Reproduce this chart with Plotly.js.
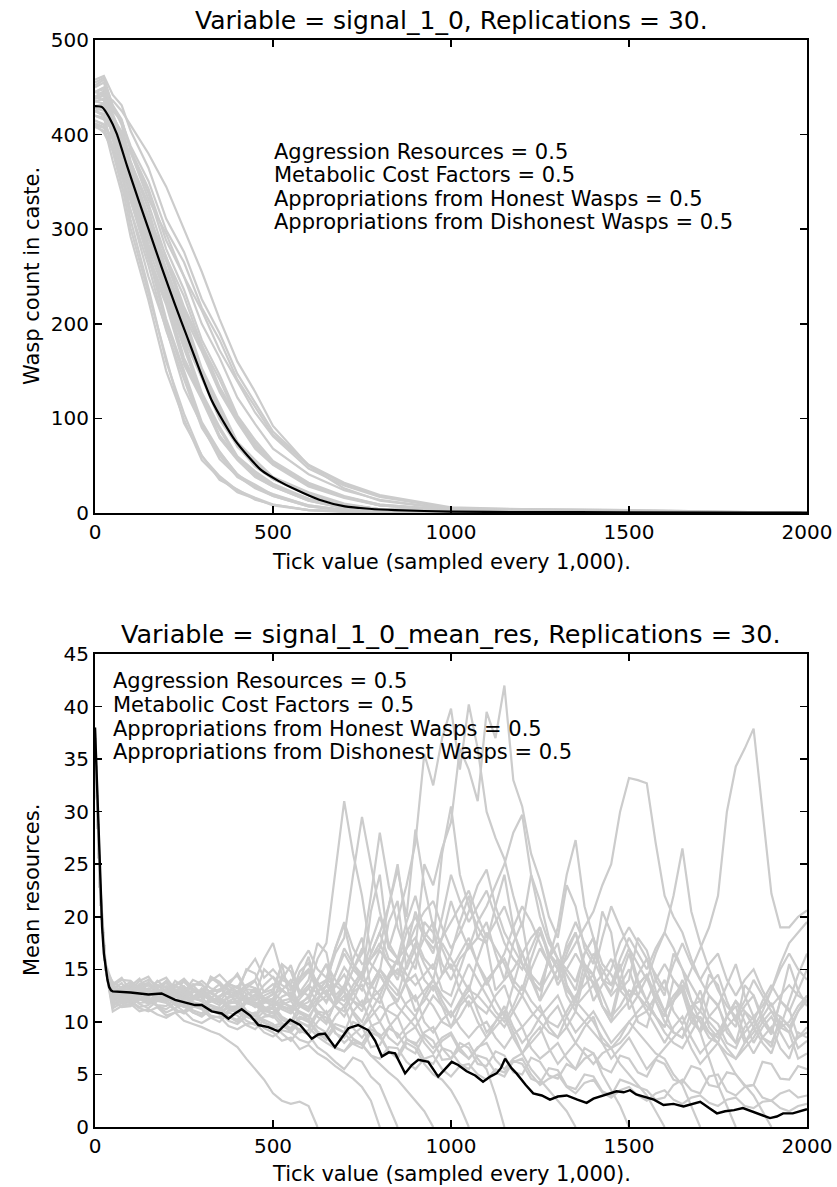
<!DOCTYPE html>
<html>
<head>
<meta charset="utf-8">
<script src="https://cdn.plot.ly/plotly-3.0.1.min.js"></script>
<style>html,body{margin:0;padding:0;background:#fff;}#chart{width:837px;height:1187px;}</style>
</head>
<body>
<div id="chart"></div>
<script>
// ---------- Top panel: wasp count in caste ----------
const countTicks = [0,25,50,75,100,150,200,250,300,350,400,450,500,600,700,800,1000,1200,1500,2000];
const countRuns = [
  [415,410,372,338,292,225,150,99,56,37,22,15,8,3,1,1,0,0,0,0],
  [425,420,382,348,301,232,162,95,61,35,25,14,9,3,2,1,1,0,0,0],
  [410,402,383,345,320,250,195,132,93,57,39,26,18,7,3,2,1,1,0,0],
  [435,433,400,374,331,271,200,147,94,64,41,27,20,8,3,2,1,1,0,0],
  [420,418,386,361,320,262,193,141,90,61,38,28,18,7,3,2,1,1,0,0],
  [440,446,412,389,349,296,231,176,124,89,58,43,29,15,6,3,1,1,1,0],
  [415,411,395,361,336,273,224,160,122,80,57,39,28,13,5,3,1,1,1,0],
  [450,455,422,398,357,303,236,181,127,91,60,44,31,15,6,3,1,1,1,0],
  [425,420,404,370,344,280,229,164,125,82,58,40,29,14,5,3,1,1,1,0],
  [430,432,407,388,351,303,243,198,144,107,71,53,36,20,9,4,2,1,1,0],
  [445,450,420,401,363,314,252,205,149,111,74,55,37,21,9,4,2,1,1,0],
  [412,408,396,366,343,284,240,184,143,99,71,49,36,19,9,4,1,1,1,0],
  [455,460,430,410,372,321,257,210,153,114,75,56,38,22,10,4,2,1,1,0],
  [420,416,404,373,350,290,244,188,146,101,72,50,37,19,9,4,1,1,1,0],
  [435,438,408,385,346,292,229,174,123,88,58,42,30,14,6,3,1,1,0,0],
  [438,442,418,403,371,327,270,229,177,141,100,74,53,31,17,9,3,1,1,0],
  [420,417,407,381,363,308,266,214,175,131,99,69,52,29,17,8,3,1,1,0],
  [452,458,431,416,383,338,279,236,183,146,103,77,55,32,18,9,3,1,1,0],
  [428,425,415,388,369,313,271,218,178,133,101,71,53,30,17,8,3,1,1,0],
  [440,444,425,414,388,351,299,265,217,183,141,112,83,50,31,18,5,4,3,0],
  [425,422,417,394,381,332,295,250,214,172,139,106,81,47,29,17,5,2,1,0],
  [458,462,442,431,404,365,311,276,226,190,147,116,86,51,32,19,6,4,3,0],
  [445,442,436,425,410,380,345,300,255,205,160,128,92,50,26,13,4,3,2,0],
  [445,448,410,382,340,277,205,150,96,65,40,30,19,8,3,2,1,1,0,0],
  [408,404,388,355,330,268,220,157,120,79,56,38,28,13,5,3,1,1,0,0],
  [438,441,415,395,358,309,248,202,147,109,73,54,37,21,9,4,2,1,1,0],
  [410,407,398,372,354,300,259,209,171,128,96,68,51,28,16,8,3,1,1,0],
  [440,436,395,358,310,238,160,105,60,39,24,16,9,3,2,1,1,0,0,0],
  [425,429,402,383,347,299,240,196,143,106,70,52,36,20,9,4,2,1,1,0],
  [445,449,427,414,384,343,288,250,200,164,122,94,68,41,24,14,4,2,1,0]
];
const countMeanTicks = [0,20,40,61,90,122,155,187,225,262,295,328,360,393,430,468,515,562,630,702,770,843,1000,1200,1500,2000];
const countMean = [430,429,418,401,367,331,295,260,220,183,150,119,97,77,60,45,34,25,14,7,4.5,3,1.5,1,0.7,0.5];

// ---------- Bottom panel: mean resources (0, 15, 30, then every 25 ticks from 50 to 2000) ----------
const resTicks = [0,15,30,50,75,100,125,150,175,200,225,250,275,300,325,350,375,400,425,450,475,500,525,550,575,600,625,650,675,700,725,750,775,800,825,850,875,900,925,950,975,1000,1025,1050,1075,1100,1125,1150,1175,1200,1225,1250,1275,1300,1325,1350,1375,1400,1425,1450,1475,1500,1525,1550,1575,1600,1625,1650,1675,1700,1725,1750,1775,1800,1825,1850,1875,1900,1925,1950,1975,2000];
const resRuns = [
  [37,22,15, 13.0,12.4,13.4,14.1,12.6,13.2,13.9,12.9,12.8,14.0,13.6,12.7,12.3,13.5,14.6,13.1,13.0,11.9,12.2,14.0, 15.4,12.8,14.0,17.5,16.6,12.5,13.4,16.0,18.0,13.2,14.8,19.5,21.5,15.0,17.0,25.0,23.0,26.5,29.0,36.0, 34.0,31.0,39.5,37.0,42.0,33.0,30.5,26.0,23.5,20.0,18.0,23.0,21.0,17.0,15.5,20.5,18.5,13.0,14.0,18.0, 16.8,14.0,12.5,16.5,15.0,12.0,11.0,14.5,13.5,10.5,9.5,13.5,12.5,10.0,8.8,12.0,11.2,8.5,9.0],
  [37.5,22.5,15.5, 13.6,14.2,12.9,13.5,13.7,12.8,12.5,13.9,13.3,12.4,12.0,14.3,13.8,12.9,12.6,15.0,14.6,12.8,13.1,15.5, 11.9,14.0,16.2,12.9,13.4,17.0,19.2,15.5,14.0,20.5,24.0,17.0,19.8,23.0,27.0,35.5,32.5,37.0,39.8,34.0, 40.2,36.0,30.0,27.5,25.5,22.0,19.0,24.0,21.5,18.0,16.0,15.0,13.8,16.5,18.0,14.0,12.8,15.5,11.2,12.5, 14.2,12.0,10.5,14.0,12.8,10.0,9.2,12.5,11.6,9.0,8.0,11.0,10.2,8.5,7.6,10.5,9.6,7.5,8.2],
  [38,23,15, 12.5,13.3,13.8,12.6,12.9,13.9,13.2,12.5,14.0,13.0,12.4,14.2,13.6,11.9,11.8,13.2,13.9,12.0,12.7,15.5, 14.8,12.5,13.2,16.0,17.5,24.0,31.0,26.0,22.0,16.5,18.5,21.0,24.5,20.0,28.3,23.0,19.0,14.5,16.5,19.5, 22.0,18.0,17.5,13.0,14.0,17.5,19.5,14.5,12.0,16.5,15.5,12.5,11.0,14.5,13.8,11.5,10.0,13.5,12.5,10.0, 9.5,12.5,11.0,9.0,8.5,11.0,13.0,10.5,9.8,8.0,7.5,9.5,10.5,8.5,8.0,10.0,9.0,6.5,7.0],
  [37,22,15, 13.2,12.6,12.4,13.4,13.5,12.7,12.2,13.3,13.1,12.4,12.9,12.0,11.9,13.0,13.4,12.1,12.6,15.0,14.2,13.0, 12.4,14.8,15.6,13.5,14.0,16.5,18.0,24.0,29.5,25.0,20.5,17.0,16.0,19.5,22.0,18.5,17.5,26.0,30.5,24.0, 21.0,19.0,17.5,21.0,24.0,19.0,15.5,14.0,13.0,16.0,17.5,13.5,12.0,15.5,14.5,11.5,10.5,14.0,16.5,13.5, 12.0,10.5,9.5,12.0,13.5,11.0,10.0,8.5,8.0,10.5,11.5,8.5,7.0,8.5,9.5,7.5,6.5,9.0,8.5],
  [37,22,15, 12.2,12.9,13.0,12.1,12.3,13.5,13.3,12.4,12.0,13.1,12.8,11.9,12.5,12.9,11.6,12.6,12.9,11.2,11.7,14.5, 13.5,11.5,11.9,14.0,15.5,12.0,13.0,15.0,16.5,22.0,28.0,23.0,19.0,16.5,15.0,19.5,18.5,15.5,14.0,16.0, 17.0,19.5,21.0,23.0,25.0,28.0,29.7,24.0,20.0,17.5,16.0,14.5,13.0,16.5,18.0,14.0,12.5,13.5,15.0,12.5, 11.0,12.5,14.0,11.0,9.8,11.5,12.0,9.5,8.5,9.5,10.5,8.0,9.0,10.5,11.8,9.5,10.0,11.5,12.5],
  [37,22,15, 12.8,12.3,12.1,12.8,13.2,12.4,11.9,12.3,12.6,11.8,11.4,12.0,12.2,11.3,11.0,11.9,12.5,11.4,10.8,11.6, 12.0,10.9,10.2,12.0,13.5,12.2,11.5,13.0,14.5,16.0,17.0,21.0,25.0,19.0,16.5,14.0,13.0,14.5,15.5,13.0, 11.5,12.5,14.0,12.0,10.5,13.5,16.5,14.5,13.5,16.0,19.0,24.0,27.3,21.0,18.0,15.5,14.5,13.0,12.0,14.5, 16.0,13.0,11.0,12.5,13.5,10.5,9.0,10.5,11.5,9.5,8.0,9.0,10.0,12.0,13.5,12.0,11.0,13.0,15.0],
  [37,22,15, 13.4,14.0,13.9,13.2,13.0,13.8,14.2,13.1,12.7,13.6,13.5,12.8,13.1,12.6,12.4,13.5,14.0,16.0,17.5,14.5, 13.2,14.2,15.0,13.5,12.6,14.5,16.5,15.0,14.0,16.5,18.5,16.0,15.5,18.5,20.0,18.0,17.0,18.0,19.5,21.0, 22.5,20.0,18.0,19.5,21.0,18.5,16.5,18.0,19.0,16.5,15.0,16.0,17.5,19.0,20.5,23.0,25.0,30.0,33.2,33.0, 32.7,27.0,22.0,20.0,18.5,16.0,14.0,15.5,16.5,14.0,12.5,14.0,15.0,13.0,11.5,12.5,13.5,12.5,12.0],
  [37,22,15, 12.9,12.4,13.3,12.8,12.7,13.4,13.0,12.5,12.2,13.1,12.9,12.0,12.4,12.8,11.9,12.5,13.2,12.0,11.5,12.4, 12.8,11.6,11.2,12.9,13.9,12.4,12.0,13.5,14.8,12.5,11.8,14.0,16.0,14.5,13.5,14.5,15.5,13.0,12.5,15.0, 17.5,15.5,14.0,15.0,16.0,14.0,13.0,16.0,18.5,16.5,15.0,13.0,12.0,14.5,16.5,15.0,13.5,15.0,17.0,14.0, 12.0,14.0,15.5,14.0,13.0,15.0,17.0,19.0,22.0,30.0,34.3,36.0,37.9,30.3,22.2,19.0,19.0,20.0,20.6],
  [37,22,15, 12.0,11.5,12.7,12.2,11.8,12.6,12.4,11.6,11.5,12.3,12.0,11.0,11.2,12.0,12.3,11.1,10.6,12.0,11.6,10.5, 10.0,11.5,12.5,10.5,9.8,12.0,13.5,12.0,11.0,13.5,15.0,13.5,12.5,15.5,17.5,15.5,14.0,17.5,16.0,14.5, 13.0,16.0,18.5,17.0,15.5,13.5,12.5,15.0,17.0,15.5,14.0,17.5,19.5,17.5,16.0,14.0,13.5,16.0,18.0,16.5, 15.0,17.0,18.5,22.0,26.5,20.5,17.5,15.0,13.0,11.5,10.5,12.0,14.0,12.5,11.0,9.5,9.0,11.0,12.5],
  [37,22,15, 13.1,13.7,12.5,13.1,13.6,13.0,12.8,13.5,14.1,13.2,12.3,12.9,13.0,13.8,14.4,13.0,12.1,12.9,13.6,13.0, 12.5,13.8,14.8,13.0,11.8,13.5,15.2,14.0,13.0,15.0,16.8,15.5,14.5,17.0,19.0,20.5,21.5,19.0,17.0,18.5, 20.5,23.0,24.5,21.0,18.5,17.0,15.5,14.0,13.0,14.5,16.0,13.5,11.5,12.5,13.5,11.5,10.0,11.0,12.0,13.5, 14.5,12.0,10.0,9.0,8.5,10.0,11.0,10.0,9.0,10.5,12.0,10.0,8.0,9.5,10.5,9.0,7.5,8.5,9.5],
  [37,22,15, 11.5,12.1,11.9,11.3,11.0,11.4,10.6,10.9,10.1,9.8,9.5,9.1,8.8,8.2,7.6,6.5,5.5,4.5,3.2,2.5, 2.2,2.4,2.0,0],
  [37,22,15, 12.3,11.8,11.6,12.2,12.0,11.5,11.2,11.8,11.5,10.9,10.6,11.2,10.9,10.1,9.8,10.5,10.2,9.4,9.0,8.2, 8.5,7.4,7.8,7.0,6.5,5.8,5.2,4.6,3.8,2.5,0],
  [37,22,15, 11.9,12.6,12.4,11.7,11.3,12.0,11.8,11.1,10.9,11.5,11.2,10.4,10.0,10.9,10.6,9.7,9.3,10.2,9.8,8.9, 8.2,9.3,8.8,7.6,7.0,6.2,5.5,6.6,6.2,4.8,4.0,2.0,0],
  [37,22,15, 12.6,12.0,11.8,12.5,12.2,11.6,11.5,12.1,11.9,11.1,10.8,11.6,11.3,10.5,10.2,11.0,10.7,9.9,9.6,9.9, 9.0,10.0,9.5,8.6,8.0,7.5,7.2,8.3,7.8,6.8,6.0,5.2,4.5,3.5,2.5,1.5,0],
  [37,22,15, 12.1,12.6,12.9,12.2,11.7,12.4,12.5,11.8,11.4,12.2,12.0,11.2,10.7,11.4,11.5,10.6,10.1,10.5,10.9,9.9, 9.4,10.5,10.2,9.1,8.6,9.8,9.5,8.4,7.9,9.3,8.8,7.2,6.5,8.0,7.5,6.0,5.0,4.5,3.5,2.0, 0],
  [37,22,15, 13.0,12.5,12.2,12.9,12.8,12.1,11.9,12.6,12.4,11.7,11.3,12.0,12.1,11.2,10.9,11.8,11.6,10.8,10.4,11.5, 11.2,10.0,9.6,11.0,10.8,9.4,9.0,11.0,12.0,9.8,8.5,9.5,10.5,8.4,7.8,9.0,9.5,7.5,6.5,7.5, 8.0,6.5,5.5,3.0,0],
  [37,22,15, 12.4,12.8,13.1,12.5,12.0,12.7,12.6,11.9,11.7,12.4,12.3,11.5,11.1,11.9,11.8,10.9,10.5,11.4,11.2,10.4, 10.0,9.0,9.2,10.8,10.4,8.9,8.5,10.0,9.6,7.6,7.8,9.4,8.9,7.5,7.0,8.8,8.2,6.4,6.5,8.0, 7.5,6.0,5.8,7.2,6.8,5.2,5.0,6.6,6.2,4.9,4.6,6.0,5.5,7.5,7.0,5.6,5.2,6.8,6.5,5.2, 4.8,6.4,6.0,4.5,4.2,5.8,5.5,4.0,3.8,5.2,5.0,3.9,4.0,6.2,6.0,4.6,4.5,5.8,5.5],
  [37,22,15, 12.7,12.2,12.0,12.6,12.9,12.4,12.2,12.0,12.5,11.9,11.6,12.2,12.0,11.5,11.3,12.0,11.8,11.0,10.9,11.8, 11.5,10.8,10.5,11.8,12.5,11.5,11.0,12.8,13.5,11.5,10.0,11.5,12.0,13.8,14.5,12.5,11.5,10.0,9.5,11.5, 12.5,11.5,10.8,12.5,13.5,11.0,9.5,10.5,11.5,9.5,8.5,10.5,12.0,11.0,10.0,8.5,7.5,8.0,9.0,10.5, 11.0,9.5,8.0,9.5,10.5,8.5,7.0,8.0,9.0,7.5,6.5,7.5,8.5,10.0,11.0,10.5,9.5,11.0,12.0],
  [37,22,15, 11.6,12.3,12.6,11.8,11.9,12.7,12.9,11.6,11.0,11.8,11.7,11.2,10.9,11.5,11.1,10.5,10.2,11.0,11.3,10.2, 9.8,11.0,10.6,9.5,9.0,10.5,11.5,9.4,8.5,9.6,10.0,8.5,7.8,8.9,9.5,8.0,7.0,8.2,8.8,7.2, 6.5,7.6,8.0,6.4,5.5,6.5,7.0,5.5,4.5,3.5,2.5,1.5,0],
  [37,22,15, 12.5,13.1,13.5,12.8,12.4,13.2,13.7,12.8,12.1,12.3,12.7,12.0,11.6,12.4,12.9,12.0,11.4,11.8,12.0,11.2, 10.8,11.8,12.3,11.0,10.0,11.8,13.0,10.8,9.5,10.5,11.5,11.0,10.5,11.8,12.5,10.0,9.0,10.2,11.0,9.5, 8.5,9.5,10.0,8.5,7.5,8.8,9.5,7.5,6.5,7.2,8.0,6.5,5.5,6.5,7.0,5.0,3.5,2.0,0],
  [37,22,15, 13.3,12.8,12.3,12.9,13.1,12.5,12.0,12.5,12.7,12.1,12.6,12.9,12.2,11.7,12.0,12.4,11.8,11.2,11.4,12.0, 12.2,11.5,11.0,12.3,13.0,11.5,10.5,12.0,14.0,13.5,12.5,14.5,16.0,13.5,11.0,12.0,13.5,11.5,9.5,10.5, 12.0,10.0,8.5,9.5,10.5,8.5,7.0,8.0,9.0,10.5,11.5,9.5,8.0,7.0,6.0,7.0,7.5,6.0,5.0,4.0, 3.0,1.5,0],
  [37,22,15, 12.2,13.0,13.6,12.9,12.6,12.8,13.1,13.5,12.9,12.3,13.2,12.4,11.8,12.3,12.7,12.4,12.0,12.5,12.9,12.0, 11.3,12.6,13.5,12.7,12.0,13.4,14.5,12.8,11.5,12.2,13.0,14.2,15.0,13.5,12.0,13.0,14.0,12.0,10.5,11.8, 13.0,12.5,11.5,10.5,9.5,11.0,12.5,11.0,10.0,9.0,8.5,9.5,11.0,10.0,9.0,8.0,7.5,8.5,10.0,9.0, 8.0,7.0,6.5,5.0,4.0,2.0,0],
  [37,22,15, 13.5,13.0,12.8,13.6,14.0,13.5,13.3,12.8,12.6,13.4,13.9,13.2,12.9,13.6,13.3,12.7,12.4,13.5,14.3,13.5, 13.0,14.2,15.0,13.8,12.5,14.5,17.0,15.5,14.5,17.5,20.0,17.5,16.0,17.0,18.0,16.0,15.0,18.0,21.5,19.0, 17.0,18.0,19.5,16.5,14.0,15.0,16.5,14.0,12.0,13.5,15.0,17.0,18.5,15.5,13.5,14.5,16.0,14.0,12.5,13.5, 14.5,12.5,11.0,12.0,13.0,11.0,9.0,6.5,4.0,2.0,0],
  [37,22,15, 12.6,13.3,13.2,12.7,13.8,13.0,12.3,12.9,13.4,12.5,12.0,12.9,13.6,13.1,12.8,13.5,13.2,12.3,11.8,13.0, 14.0,13.0,12.5,14.0,15.5,14.0,13.0,15.0,17.0,15.5,14.5,13.0,12.0,14.0,16.0,18.0,19.5,17.0,15.0,16.5, 18.0,15.5,13.5,15.0,16.5,19.0,21.0,19.5,17.5,15.5,14.0,16.5,18.5,15.0,12.0,13.5,15.0,17.5,19.0,17.5, 16.0,14.5,13.0,15.5,17.5,15.5,14.0,12.5,11.5,13.5,15.5,12.5,10.5,11.5,13.0,15.0,16.5,15.0,14.0],
  [37,22,15, 11.3,11.8,12.0,11.4,11.6,12.2,12.1,11.2,10.8,11.4,11.5,10.6,10.4,11.1,11.0,10.1,9.7,10.5,10.6,9.6, 9.2,10.4,10.0,8.9,8.3,9.5,9.0,7.9,7.5,9.0,8.6,7.2,6.8,8.3,8.0,6.4,6.0,7.5,7.2,6.0, 5.5,6.8,6.5,5.2,4.8,6.3,6.0,4.6,4.2,5.6,5.4,3.9,3.6,5.0,4.8,3.4,3.0,4.5,4.2,3.8, 3.5,2.6,2.8,4.0,4.5,3.5,3.2,4.8,5.0,3.4,3.0,3.8,4.0,2.8,2.5,3.2,3.5,2.8,3.0],
  [37,22,15, 12.0,11.4,11.5,12.2,12.4,11.5,10.9,11.3,11.7,10.9,10.5,11.2,11.4,10.5,10.0,10.6,10.9,10.0,9.5,9.6, 10.0,9.2,8.8,10.0,11.0,9.0,8.0,8.8,9.5,11.0,12.5,10.0,8.5,9.5,10.5,8.5,7.5,8.5,9.0,7.5, 6.5,7.5,8.5,10.0,11.0,9.0,7.0,8.5,9.5,7.5,6.0,7.0,8.0,9.5,10.5,8.0,6.5,7.5,8.5,7.0, 5.5,6.5,7.5,8.5,9.5,7.5,6.0,7.0,8.0,6.5,5.0,4.0,3.0,1.5,0],
  [37,22,15, 13.8,13.2,13.0,13.9,14.3,13.1,12.6,13.5,13.8,13.0,12.9,13.9,14.5,13.6,13.2,14.8,16.0,14.2,15.0,14.0, 13.6,15.5,16.8,15.0,14.2,17.0,19.5,17.0,15.5,16.0,17.5,15.5,14.0,17.0,20.5,18.0,16.5,20.0,24.0,21.5, 19.5,21.0,22.5,20.0,17.5,16.0,15.0,17.0,19.0,16.0,13.5,15.0,16.5,15.0,14.5,18.0,21.0,19.0,17.0,15.5, 14.0,16.5,18.5,17.0,15.0,13.5,12.0,13.5,14.5,12.0,10.0,11.5,12.5,10.5,9.0,12.0,15.5,13.0,11.5],
  [37,22,15, 11.0,11.5,11.7,11.0,11.2,10.7,10.4,10.9,11.0,10.2,9.9,10.4,10.5,9.6,9.3,9.8,9.9,9.0,8.6,9.2, 9.0,8.3,8.0,8.8,8.5,7.6,7.2,8.0,7.9,6.8,6.5,7.6,7.5,6.2,5.5,6.5,6.8,5.5,4.8,5.8, 6.0,5.0,4.5,5.5,5.2,6.2,6.5,5.0,4.0,4.6,5.0,3.8,3.2,4.2,4.5,3.3,2.8,3.5,3.8,3.0, 2.5,3.2,3.5,2.6,2.2,2.8,3.0,2.3,2.0,2.6,2.8,2.0,1.8,2.4,2.5,1.8,1.5,2.0,2.2],
  [37,22,15, 12.8,13.3,12.6,13.0,13.5,13.1,12.7,12.4,12.3,12.8,13.0,12.2,11.9,12.3,12.5,11.8,11.5,12.0,12.2,11.4, 11.0,12.2,13.2,11.8,10.8,11.6,12.5,11.0,10.0,12.0,14.5,13.0,11.5,10.5,9.5,11.0,12.5,11.5,10.5,12.0, 13.5,11.0,9.0,10.0,11.5,9.5,8.0,9.0,10.5,11.5,12.5,10.5,9.0,10.0,11.0,9.5,8.0,9.0,10.0,11.0, 12.0,10.5,9.0,8.0,7.5,9.0,10.5,9.0,8.0,7.0,6.5,8.0,9.5,8.0,7.0,9.5,12.0,14.5,16.5],
  [37,22,15, 13.2,12.6,12.7,13.3,12.5,12.9,13.4,12.8,13.0,13.5,12.6,12.2,13.0,13.4,12.9,12.1,11.7,12.2,12.6,13.1, 12.3,11.8,11.4,12.8,14.0,13.5,12.8,12.0,11.5,13.5,15.0,14.0,13.0,11.5,10.5,12.5,14.0,12.5,11.5,13.5, 15.5,14.0,12.5,11.0,10.0,11.5,13.5,12.0,11.0,10.0,9.5,11.0,12.5,13.5,14.5,12.5,10.5,11.5,13.0,12.5, 11.5,10.5,9.5,12.0,14.0,12.0,10.0,9.0,8.5,10.5,12.0,11.0,9.5,11.0,13.0,15.5,17.5,18.5,19.5]
];
const resMeanTicks = [0,5,10,15,20,25,30,35,40,45,50,100,150,187,225,250,281,300,328,356,375,393,412,436,459,487,515,530,548,576,609,627,646,674,693,712,739,768,787,806,825,843,871,890,908,936,964,983,1002,1020,1044,1068,1090,1110,1128,1140,1152,1170,1184,1210,1231,1255,1278,1300,1325,1355,1381,1400,1419,1440,1465,1485,1503,1520,1540,1570,1597,1625,1653,1678,1700,1725,1747,1770,1795,1820,1845,1870,1896,1915,1933,1960,1989,2000];
const resMean = [38,33,28,23,19,16.5,15,14,13.3,13.0,12.9,12.8,12.6,12.7,12.1,11.9,11.6,11.6,11.0,10.8,10.3,10.8,11.2,10.6,9.7,9.5,9.1,9.6,10.2,9.7,8.4,8.8,8.9,7.6,8.5,9.4,9.7,9.2,8.2,6.7,7.1,7.0,5.1,5.9,6.4,6.2,4.8,5.5,6.2,5.9,5.3,4.9,4.3,4.8,5.1,5.6,6.5,5.6,5.1,4.0,3.2,3.0,2.6,2.9,3.0,2.6,2.3,2.7,2.9,3.1,3.4,3.3,3.5,3.1,2.9,2.6,2.1,2.2,1.95,2.2,2.4,1.8,1.3,1.5,1.6,1.8,1.5,1.2,0.85,1.0,1.3,1.3,1.6,1.7];

// ---------- Text ----------
const topTitle = 'Variable = signal_1_0, Replications = 30.';
const bottomTitle = 'Variable = signal_1_0_mean_res, Replications = 30.';
const xTitle = 'Tick value (sampled every 1,000).';
const yTitleTop = 'Wasp count in caste.';
const yTitleBottom = 'Mean resources.';
const paramLines = ['Aggression Resources = 0.5','Metabolic Cost Factors = 0.5','Appropriations from Honest Wasps = 0.5','Appropriations from Dishonest Wasps = 0.5'];
const xTickVals = [0,500,1000,1500,2000];
const yTickValsTop = [0,100,200,300,400,500];
const yTickValsBottom = [0,5,10,15,20,25,30,35,40,45];

// ---------- Build ----------
const W = 837, H = 1187;
const px = v => v / W;
const py = v => 1 - v / H;
const GREY = '#cccccc';
const traces = [];
countRuns.forEach(r => traces.push({x: countTicks, y: r, xaxis: 'x', yaxis: 'y', mode: 'lines', line: {color: GREY, width: 2.2}, hoverinfo: 'skip'}));
traces.push({x: countMeanTicks, y: countMean, xaxis: 'x', yaxis: 'y', mode: 'lines', line: {color: '#000', width: 2.2, shape: 'spline', smoothing: 0.6}});
resRuns.forEach(r => traces.push({x: resTicks.slice(0, r.length), y: r, xaxis: 'x2', yaxis: 'y2', mode: 'lines', line: {color: GREY, width: 2.2}, hoverinfo: 'skip'}));
traces.push({x: resMeanTicks, y: resMean, xaxis: 'x2', yaxis: 'y2', mode: 'lines', line: {color: '#000', width: 2.4}});

const axBase = {
  showgrid: false, zeroline: false, showline: true, linecolor: '#000', linewidth: 2,
  mirror: 'allticks', ticks: 'inside', ticklen: 7, tickwidth: 1.5, tickcolor: '#000',
  tickfont: {family: 'DejaVu Sans', size: 20, color: '#000'}, fixedrange: true
};
const xDom = [px(95), px(807)];
const layout = {
  width: W, height: H, margin: {l: 0, r: 0, t: 0, b: 0},
  paper_bgcolor: '#fff', plot_bgcolor: '#fff', showlegend: false,
  font: {family: 'DejaVu Sans', color: '#000'},
  xaxis: Object.assign({}, axBase, {domain: xDom, anchor: 'y', range: [0, 2000], tickvals: xTickVals}),
  yaxis: Object.assign({}, axBase, {domain: [py(513), py(40)], anchor: 'x', range: [0, 500], tickvals: yTickValsTop}),
  xaxis2: Object.assign({}, axBase, {domain: xDom, anchor: 'y2', range: [0, 2000], tickvals: xTickVals}),
  yaxis2: Object.assign({}, axBase, {domain: [py(1127), py(654)], anchor: 'x2', range: [0, 45], tickvals: yTickValsBottom}),
  annotations: []
};
const ann = (text, x, y, opts) => layout.annotations.push(Object.assign({
  text: text, x: px(x), y: py(y), xref: 'paper', yref: 'paper', showarrow: false,
  xanchor: 'center', yanchor: 'middle', font: {family: 'DejaVu Sans', size: 21, color: '#000'}
}, opts || {}));
ann(topTitle, 451, 20, {font: {family: 'DejaVu Sans', size: 25, color: '#000'}});
ann(bottomTitle, 451, 634, {font: {family: 'DejaVu Sans', size: 25.5, color: '#000'}});
ann(xTitle, 451, 562);
ann(xTitle, 451, 1174);
ann(yTitleTop, 32, 276, {textangle: -90});
ann(yTitleBottom, 32, 890, {textangle: -90});
const topY = [151, 174, 197.5, 221];
const botY = [680, 703.5, 727.5, 751];
paramLines.forEach((t, i) => ann(t, 272, topY[i] + 1, {xanchor: 'left'}));
paramLines.forEach((t, i) => ann(t, 111, botY[i] + 1, {xanchor: 'left'}));

Plotly.newPlot('chart', traces, layout, {staticPlot: true, displayModeBar: false});
</script>
</body>
</html>
